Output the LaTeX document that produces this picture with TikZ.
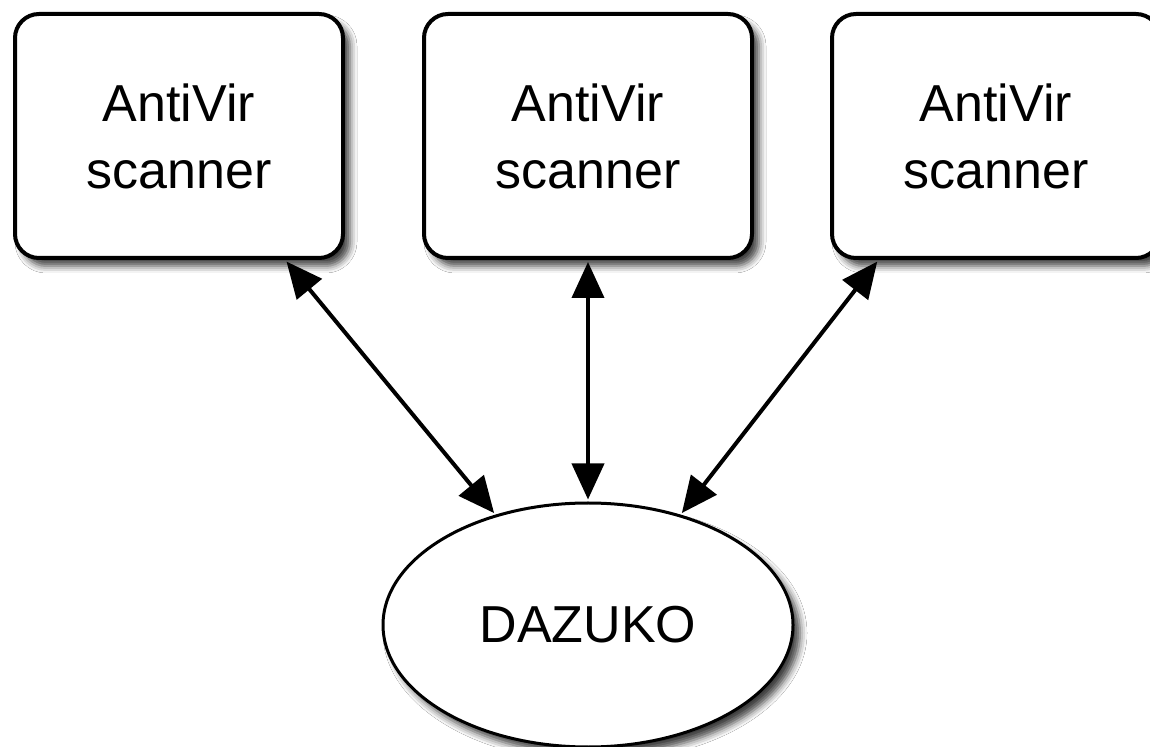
\documentclass[tikz,border=0pt]{standalone}
\usepackage{fontspec}
\setmainfont{Liberation Sans}
\usetikzlibrary{shapes.geometric,arrows.meta,shadows.blur,calc}
\tikzset{
  scanbox/.style={draw=black, line width=2pt, rounded corners=12pt, fill=white,
    minimum width=164pt, minimum height=122pt, align=center, inner sep=0pt,
    font=\fontsize{26}{33.5}\selectfont,
    blur shadow={shadow xshift=3.5pt, shadow yshift=-4pt, shadow blur radius=3.5pt, shadow opacity=75}},
  dazbox/.style={ellipse, draw=black, line width=1.5pt, fill=white,
    minimum width=205pt, minimum height=122pt, inner sep=0pt,
    font=\fontsize{26}{30}\selectfont,
    blur shadow={shadow xshift=3.5pt, shadow yshift=-4pt, shadow blur radius=3.5pt, shadow opacity=75}},
  link/.style={line width=2pt, {Triangle[length=18pt,width=16pt]}-{Triangle[length=18pt,width=16pt]}, shorten <=1pt, shorten >=1pt}
}
\begin{document}
\begin{tikzpicture}[x=0.5pt,y=-0.5pt]
\useasboundingbox (0,0) rectangle (1150,747);
\fill[white] (0,0) rectangle (1150,747);
\begin{scope}
\clip (0,0) rectangle (1150,747);
\node[scanbox] (b1) at (179,136) {AntiVir\\scanner};
\node[scanbox] (b2) at (588,136) {AntiVir\\scanner};
\node[scanbox] (b3) at (996,136) {AntiVir\\scanner};
\node[dazbox] (d) at (588,625) {DAZUKO};
\coordinate (s1) at ($(b1.south west)!0.82!(b1.south east)$);
\coordinate (s3) at ($(b3.south west)!0.146!(b3.south east)$);
\draw[link] (s1) -- (d.130);
\draw[link] (b2.south) -- (d.north);
\draw[link] (s3) -- (d.50);
\end{scope}
\end{tikzpicture}
\end{document}
